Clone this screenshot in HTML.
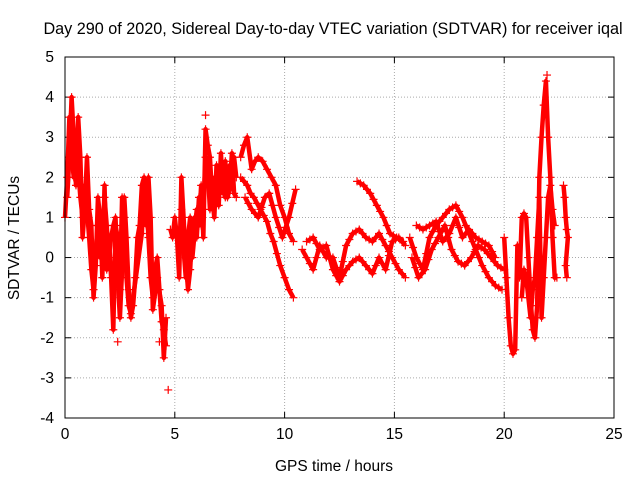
<!DOCTYPE html>
<html><head><meta charset="utf-8"><style>
body{margin:0;background:#fff}
svg text{font-family:"Liberation Sans",sans-serif;font-size:15.5px;fill:#000}
</style></head><body>
<svg id="chart" width="640" height="480" xmlns="http://www.w3.org/2000/svg">
<text x="333" y="34" text-anchor="middle" style="font-size:16.2px">Day 290 of 2020, Sidereal Day-to-day VTEC variation (SDTVAR) for receiver iqal</text>
<text x="334" y="471" text-anchor="middle">GPS time / hours</text>
<text transform="translate(19,238) rotate(-90)" text-anchor="middle">SDTVAR / TECUs</text>
<g id="grid"></g><g id="ticks"></g><g id="marks"></g>
<rect x="65" y="57" width="549" height="361" fill="none" stroke="#000"/>
</svg>
<script>
const xTicks=[0,5,10,15,20,25];
const yTicks=[-4,-3,-2,-1,0,1,2,3,4,5];
const trackA1=[[0,1.0],[0.1,2.0],[0.2,3.5],[0.3,2.5],[0.4,2.0],[0.5,2.8],[0.6,2.2],[0.7,1.5],[0.8,1.0],[0.9,1.8],[1.0,1.2],[1.1,0.5],[1.2,-0.3],[1.3,-0.8],[1.4,0.2],[1.5,0.8],[1.6,0.0],[1.7,0.5],[1.8,1.5],[1.9,0.8],[2.0,0.0],[2.1,0.5],[2.2,0.8],[2.3,1.0],[2.4,-0.5],[2.5,-1.5],[2.6,-0.3],[2.7,1.5],[2.8,0.5],[2.9,-0.8],[3.0,-1.5],[3.1,-1.2],[3.2,-0.5],[3.3,0.5],[3.4,0.8],[3.5,1.8],[3.6,2.0],[3.7,1.5],[3.8,0.5],[3.9,-0.5],[4.0,-1.0],[4.1,-0.3],[4.2,0.0],[4.3,-0.8],[4.4,-1.6],[4.5,-1.8],[4.6,-2.2]];
const trackA2=[[0.1,1.5],[0.2,2.5],[0.3,4.0],[0.4,3.0],[0.5,1.8],[0.6,3.5],[0.7,2.5],[0.8,0.5],[0.9,1.2],[1.0,2.5],[1.1,1.2],[1.2,0.8],[1.3,-1.0],[1.4,-0.2],[1.5,1.5],[1.6,1.0],[1.7,-0.5],[1.8,1.8],[1.9,-0.3],[2.0,0.5],[2.1,-0.5],[2.2,-1.8],[2.3,0.8],[2.4,0.5],[2.5,-0.8],[2.6,1.5],[2.7,1.0],[2.8,-0.5],[2.9,-1.2],[3.0,-1.4],[3.5,0.6],[3.6,1.8],[3.7,0.8],[3.8,2.0],[3.9,1.0],[4.0,-1.3],[4.2,-0.5],[4.4,-1.2],[4.5,-2.5],[4.6,-1.5]];
const outliers=[[4.7,-3.3],[4.3,-2.1],[2.4,-2.1],[6.4,3.55],[21.95,4.55]];
const trackB1=[[4.8,0.7],[4.9,0.5],[5.0,1.0],[5.1,0.5],[5.2,-0.5],[5.3,2.0],[5.4,1.0],[5.5,0.0],[5.6,-0.8],[5.7,-0.3],[5.8,0.8],[5.9,1.0],[6.0,0.5],[6.1,1.5],[6.2,0.8],[6.3,1.2],[6.4,2.5],[6.5,2.2],[6.6,1.2],[6.7,2.0],[6.8,1.8],[6.9,1.5],[7.0,2.0],[7.1,1.8],[7.2,2.2],[7.3,1.5],[7.4,2.0],[7.5,2.3],[7.6,2.0],[7.7,2.5],[7.8,2.0]];
const trackB2=[[5.3,1.2],[5.4,0.2],[5.5,-0.5],[5.6,0.5],[5.7,1.0],[5.8,0.0],[5.9,0.6],[6.0,1.2],[6.1,0.8],[6.2,1.8],[6.3,0.5],[6.4,3.2],[6.5,2.8],[6.6,2.5],[6.7,1.5],[6.8,1.0],[6.9,2.3],[7.0,1.3],[7.1,2.6],[7.2,1.6],[7.3,2.4],[7.4,1.5],[7.5,1.7],[7.6,2.6],[7.7,1.6],[7.8,1.5]];
const trackC1=[[8.0,2.5],[8.15,2.8],[8.3,3.0],[8.5,2.2],[8.65,2.4],[8.8,2.5],[9.0,2.4],[9.2,2.2],[9.4,2.0],[9.6,1.8],[9.8,1.3],[10.0,1.0],[10.2,0.6],[10.4,0.4]];
const trackC2=[[8.0,2.0],[8.15,1.9],[8.3,1.8],[8.45,1.6],[8.6,1.5],[8.75,1.35],[8.9,1.2],[9.05,1.05],[9.2,0.9],[9.35,0.6],[9.5,0.4],[9.65,0.1],[9.8,-0.2],[10.0,-0.5],[10.2,-0.8],[10.4,-1.0]];
const trackC3=[[8.2,1.5],[8.35,1.35],[8.5,1.2],[8.65,1.1],[8.8,1.0],[8.95,1.25],[9.1,1.5],[9.3,1.6],[9.45,1.3],[9.6,1.0],[9.75,0.75],[9.9,0.5],[10.05,0.75],[10.2,1.0],[10.35,1.35],[10.5,1.7]];
const trackD1=[[10.8,0.2],[11.0,0.0],[11.15,-0.15],[11.3,-0.3],[11.45,0.0],[11.6,0.3],[11.75,0.15],[11.9,0.0],[12.05,0.0],[12.2,0.0],[12.35,-0.25],[12.5,-0.5],[12.65,-0.1],[12.8,0.3],[12.95,0.45],[13.1,0.6],[13.25,0.65],[13.4,0.7],[13.55,0.6],[13.7,0.5],[13.85,0.45],[14.0,0.4],[14.15,0.5],[14.3,0.6],[14.45,0.45],[14.6,0.3],[14.75,0.15],[14.9,0.0],[15.05,-0.15],[15.2,-0.3],[15.35,-0.4],[15.5,-0.5]];
const trackD2=[[11.0,0.4],[11.15,0.45],[11.3,0.5],[11.45,0.35],[11.6,0.2],[11.75,0.25],[11.9,0.3],[12.05,0.0],[12.2,-0.3],[12.35,-0.45],[12.5,-0.6],[12.65,-0.45],[12.8,-0.3],[12.95,-0.2],[13.1,-0.1],[13.25,-0.05],[13.4,0.0],[13.55,-0.1],[13.7,-0.2],[13.85,-0.3],[14.0,-0.4],[14.15,-0.2],[14.3,0.0],[14.45,-0.15],[14.6,-0.3],[14.75,0.05],[14.9,0.4],[15.05,0.45],[15.2,0.5],[15.35,0.4],[15.5,0.3]];
const trackD3=[[13.3,1.9],[13.45,1.85],[13.6,1.8],[13.75,1.7],[13.9,1.6],[14.05,1.45],[14.2,1.3],[14.35,1.15],[14.5,1.0],[14.65,0.8],[14.8,0.6],[14.95,0.55],[15.1,0.5],[15.25,0.45],[15.4,0.4]];
const trackE1=[[15.7,0.5],[15.85,0.25],[16.0,0.0],[16.15,-0.15],[16.3,-0.3],[16.45,0.1],[16.6,0.5],[16.75,0.65],[16.9,0.8],[17.05,0.9],[17.2,1.0],[17.35,1.1],[17.5,1.2],[17.65,1.25],[17.8,1.3],[17.95,1.15],[18.1,1.0],[18.25,0.8],[18.4,0.6],[18.55,0.4],[18.7,0.2],[18.85,0.0],[19.0,-0.2],[19.15,-0.35],[19.3,-0.5],[19.45,-0.6],[19.6,-0.7],[19.75,-0.75],[19.9,-0.8]];
const trackE2=[[15.8,0.0],[15.95,-0.25],[16.1,-0.5],[16.25,-0.4],[16.4,-0.3],[16.55,-0.05],[16.7,0.2],[16.85,0.35],[17.0,0.5],[17.15,0.65],[17.3,0.8],[17.45,0.5],[17.6,0.2],[17.75,0.05],[17.9,-0.1],[18.05,-0.15],[18.2,-0.2],[18.35,-0.1],[18.5,0.0],[18.65,0.15],[18.8,0.3],[18.95,0.25],[19.1,0.2],[19.25,0.1],[19.4,0.0],[19.55,-0.1],[19.7,-0.2],[19.85,-0.25],[20.0,-0.3]];
const trackE3=[[16.0,0.8],[16.15,0.75],[16.3,0.7],[16.45,0.75],[16.6,0.8],[16.75,0.85],[16.9,0.9],[17.05,0.65],[17.2,0.4],[17.35,0.5],[17.5,0.6],[17.65,0.8],[17.8,1.0],[17.95,0.75],[18.1,0.5],[18.25,0.6],[18.4,0.7],[18.55,0.6],[18.7,0.5],[18.85,0.45],[19.0,0.4],[19.15,0.35],[19.3,0.3],[19.45,0.15],[19.6,0.0]];
const trackF1=[[20.0,0.5],[20.1,-0.5],[20.2,-1.5],[20.3,-2.2],[20.4,-2.4],[20.5,-2.3],[20.6,0.3],[20.7,-0.5],[20.8,1.0],[20.9,1.1],[21.0,1.0],[21.1,0.0],[21.2,-1.0],[21.3,-1.8],[21.4,-2.0],[21.5,-1.2],[21.6,2.0],[21.7,3.0],[21.8,3.8],[21.9,4.4],[22.0,3.0],[22.1,2.0],[22.2,0.5],[22.3,-0.5],[22.4,-0.5]];
const trackF2=[[20.8,-1.0],[20.9,-0.3],[21.0,-0.5],[21.1,-1.0],[21.2,-1.5],[21.3,-0.8],[21.4,-0.5],[21.5,0.5],[21.6,1.5],[21.7,-1.5],[21.8,-0.5],[21.9,0.5],[22.0,1.5],[22.1,1.8],[22.2,1.2],[22.3,0.8]];
const trackF3=[[22.7,1.8],[22.75,1.5],[22.8,1.0],[22.85,0.7],[22.9,0.5],[22.8,-0.2],[22.85,-0.5]];
const tracks=[trackA1,trackA2,trackB1,trackB2,trackC1,trackC2,trackC3,trackD1,trackD2,trackD3,trackE1,trackE2,trackE3,trackF1,trackF2,trackF3,outliers];
const NS="http://www.w3.org/2000/svg";
const X0=65,X1=614,Y0=418,Y1=57;
const xs=t=>X0+(t-0)/(25-0)*(X1-X0);
const ys=v=>Y0-(v+4)/(5+4)*(Y0-Y1);
const grid=document.getElementById('grid'),ticks=document.getElementById('ticks'),marks=document.getElementById('marks');
function mk(tag,a,parent){const e=document.createElementNS(NS,tag);for(const k in a)e.setAttribute(k,a[k]);parent.appendChild(e);return e;}
xTicks.forEach(t=>{const x=xs(t);
 if(t>0&&t<25){const g=mk('line',{x1:x,x2:x,y1:Y1,y2:Y0,stroke:'#aaa','stroke-dasharray':'1,2'},grid);
 
 }
 mk('line',{x1:x,x2:x,y1:Y0,y2:Y0-6,stroke:'#000'},ticks);mk('line',{x1:x,x2:x,y1:Y1,y2:Y1+6,stroke:'#000'},ticks);
 const l=mk('text',{x:x,y:Y0+21,'text-anchor':'middle'},ticks);l.textContent=t;
 
 });
yTicks.forEach(v=>{const y=ys(v);
 if(v>-4&&v<5){const g=mk('line',{x1:X0,x2:X1,y1:y,y2:y,stroke:'#aaa','stroke-dasharray':'1,2'},grid);
 
 }
 mk('line',{x1:X0,x2:X0+6,y1:y,y2:y,stroke:'#000'},ticks);mk('line',{x1:X1,x2:X1-6,y1:y,y2:y,stroke:'#000'},ticks);
 const l=mk('text',{x:X0-11,y:y+5,'text-anchor':'end'},ticks);l.textContent=v;
 
 });
tracks.forEach((tr,i)=>{
 if(tr!==outliers){const pl=mk('polyline',{points:tr.map(p=>xs(p[0])+','+ys(p[1])).join(' '),fill:'none',stroke:'#f00','stroke-width':4.5,'stroke-linejoin':'round'},marks);
 
 }
 tr.forEach(p=>{const x=xs(p[0]),y=ys(p[1]);
  const m=mk('path',{d:`M${x-4},${y}H${x+4}M${x},${y-4}V${y+4}`,stroke:'#f00','stroke-width':1.2},marks);
  
  });
});
</script>
</body></html>
